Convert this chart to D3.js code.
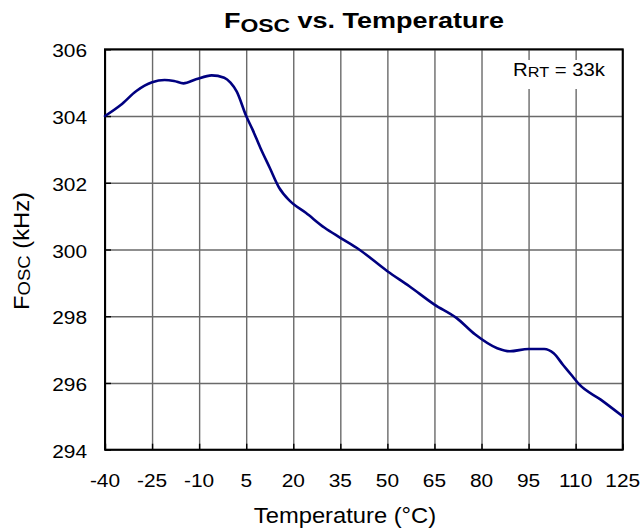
<!DOCTYPE html>
<html>
<head>
<meta charset="utf-8">
<script src="https://cdn.jsdelivr.net/npm/d3@7"></script>
<style>
  html, body { margin: 0; padding: 0; background: #fff; }
  svg { display: block; }
  text { font-family: "Liberation Sans", Arial, sans-serif; fill: #000; }
</style>
</head>
<body>
<svg id="chart" width="641" height="532"></svg>
<script>
// ---- data ----
const temperatures = [-40, -35, -30, -25, -21, -18, -15, -11, -6, -2, 0, 2, 5, 7, 9.5, 12.5, 15.5, 19, 24, 30, 35, 41, 50, 57, 65, 72, 78, 85, 89, 95, 100, 103, 106, 109, 111, 118, 125];
const fosc = [304.0, 304.33, 304.75, 305.01, 305.08, 305.05, 304.98, 305.1, 305.22, 305.15, 305.0, 304.73, 304.0, 303.6, 303.05, 302.45, 301.85, 301.45, 301.1, 300.65, 300.35, 300.0, 299.35, 298.9, 298.35, 297.95, 297.45, 297.04, 296.95, 297.02, 297.02, 296.89, 296.54, 296.2, 295.97, 295.5, 295.0];
const xTicks = [-40, -25, -10, 5, 20, 35, 50, 65, 80, 95, 110, 125];
const yTicks = [294, 296, 298, 300, 302, 304, 306];

// ---- layout ----
const L = 105, R = 622.7, T = 49.3, B = 449.7;
const SX = 1.13; // horizontal text stretch

const svg = d3.select("#chart");
const x = d3.scaleLinear().domain([-40, 125]).range([L, R]);
const y = d3.scaleLinear().domain([294, 306]).range([B, T]);

function addText(px, py, anchor, size, weight, parts, rot, sx) {
  const g = svg.append("g")
    .attr("transform", `translate(${px},${py})` + (rot ? ` rotate(${rot})` : "") + ` scale(${sx || SX},1)`);
  const t = g.append("text")
    .attr("text-anchor", anchor)
    .attr("font-size", size)
    .attr("font-weight", weight);
  parts.forEach(p => {
    const ts = t.append("tspan").text(p.t);
    if (p.s) ts.attr("font-size", size * p.s);
    if (p.dy) ts.attr("dy", p.dy);
  });
  return t;
}

// grid
const grid = svg.append("g");
grid.append("g")
  .attr("transform", `translate(0,${B})`)
  .call(d3.axisBottom(x).tickValues(xTicks).tickSize(-(B - T)).tickFormat(""))
  .call(g => g.select(".domain").remove())
  .call(g => g.selectAll("line").attr("stroke", "#6a6a6a").attr("stroke-width", 1.4));
grid.append("g")
  .attr("transform", `translate(${L},0)`)
  .call(d3.axisLeft(y).tickValues(yTicks).tickSize(-(R - L)).tickFormat(""))
  .call(g => g.select(".domain").remove())
  .call(g => g.selectAll("line").attr("stroke", "#6a6a6a").attr("stroke-width", 1.4));

// inner ticks (darker)
svg.append("g")
  .attr("transform", `translate(${L},0)`)
  .call(d3.axisRight(y).tickValues(yTicks).tickSize(6).tickFormat(""))
  .call(g => g.select(".domain").remove())
  .call(g => g.selectAll("line").attr("stroke", "#000").attr("stroke-width", 1.4));
svg.append("g")
  .attr("transform", `translate(0,${B})`)
  .call(d3.axisTop(x).tickValues(xTicks).tickSize(6).tickFormat(""))
  .call(g => g.select(".domain").remove())
  .call(g => g.selectAll("line").attr("stroke", "#000").attr("stroke-width", 1.4));

// legend box (white background over grid)
svg.append("rect").attr("x", 511).attr("y", 60).attr("width", 102).attr("height", 29).attr("fill", "#fff");
addText(513, 76, "start", 18, "normal", [{t: "R"}, {t: "RT", s: 0.8, dy: 1}, {t: " = 33k", dy: -1}]);

// border
svg.append("rect").attr("x", L).attr("y", T).attr("width", R - L).attr("height", B - T)
  .attr("fill", "none").attr("stroke", "#000").attr("stroke-width", 2);

// line
const line = d3.line().x((d, i) => x(temperatures[i])).y(d => y(d)).curve(d3.curveMonotoneX);
svg.append("path").datum(fosc).attr("d", line)
  .attr("fill", "none").attr("stroke", "#000080").attr("stroke-width", 2.6)
  .attr("stroke-linejoin", "round").attr("stroke-linecap", "round");

// tick labels
yTicks.forEach(v => addText(87, y(v) + 8, "end", 18.5, "normal", [{t: String(v)}]));
xTicks.forEach(v => addText(x(v), 486.5, "middle", 18.5, "normal", [{t: String(v)}]));

// axis titles
addText(345, 523, "middle", 22, "normal", [{t: "Temperature (°C)"}], 0, 1.08);
addText(29, 251, "middle", 22, "normal", [{t: "F"}, {t: "OSC", s: 0.78, dy: 1}, {t: " (kHz)", dy: -1}], -90, 1.08);

// chart title
addText(364, 28.3, "middle", 22.5, "bold", [{t: "F"}, {t: "OSC", s: 0.85, dy: 3.4}, {t: " vs. Temperature", dy: -3.4}], 0, 1.2);
</script>
</body>
</html>
